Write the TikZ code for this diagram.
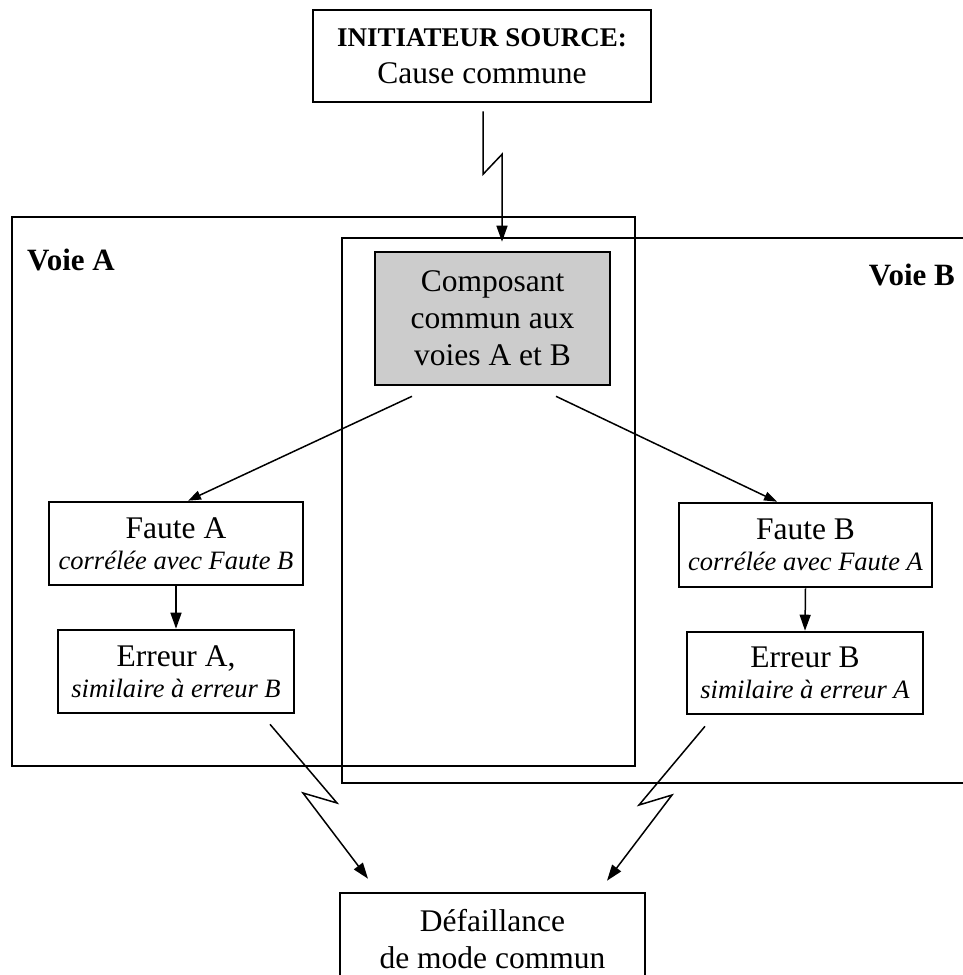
\documentclass[tikz,border=0pt]{standalone}
\usepackage{fontspec}
\setmainfont{Liberation Serif}
\usetikzlibrary{arrows.meta,calc}
\definecolor{compgrey}{gray}{0.8}
\begin{document}
\begin{tikzpicture}[x=1pt,y=-1pt,
  box/.style={draw, line width=2.6pt, inner sep=0pt, align=center, fill=white},
  lane/.style={draw, line width=2.4pt, inner sep=0pt},
  arr/.style={line width=1.5pt, -{Triangle[length=16pt,width=11pt]}},
  small arr/.style={line width=1.5pt, -{Triangle[length=13pt,width=9pt]}},
  big/.style={font=\fontsize{31.5}{37}\selectfont},
  pair/.style={font=\fontsize{31.5}{31}\selectfont},
  lanelabel/.style={font=\bfseries\fontsize{31}{37}\selectfont, inner sep=0pt},
]
\useasboundingbox (0,0) rectangle (963,975);

% the two redundant channels
\node[lane, minimum width=623pt, minimum height=549pt] (voieA) at (323.5,491.5) {};
\node[lane, minimum width=668pt, minimum height=545pt] (voieB) at (676,510.5) {};
\node[lanelabel, anchor=base west] (labA) at (27,270) {Voie A};
\node[lanelabel, anchor=base east] (labB) at (955,285) {Voie B};

% source of the common cause
\node[box, big, minimum width=338pt, minimum height=92pt] (src) at (482,56)
  {{\bfseries\fontsize{27}{37}\selectfont INITIATEUR SOURCE:}\\Cause commune};

% shared component
\node[box, big, fill=compgrey, minimum width=235pt, minimum height=133pt] (comp) at (492.5,318.5)
  {Composant\\commun aux\\voies A et B};

% faults and errors in each channel
\node[box, pair, minimum width=254pt, minimum height=83pt] (fa) at (176,543.5)
  {Faute A\\{\fontsize{26.5}{31}\selectfont\itshape corrélée avec Faute B}};
\node[box, pair, minimum width=253pt, minimum height=84pt] (fb) at (805.5,545)
  {Faute B\\{\fontsize{26.5}{31}\selectfont\itshape corrélée avec Faute A}};
\node[box, pair, minimum width=236pt, minimum height=83pt] (ea) at (176,671.5)
  {Erreur A,\\{\fontsize{26.5}{31}\selectfont\itshape similaire à erreur B}};
\node[box, pair, minimum width=236pt, minimum height=82pt] (eb) at (805,673)
  {Erreur B\\{\fontsize{26.5}{31}\selectfont\itshape similaire à erreur A}};

% resulting failure
\node[box, big, minimum width=305pt, minimum height=93pt] (cmf) at (492.5,939.5)
  {Défaillance\\de mode commun};

% lightning connector from the source
\draw[arr] ($(src.south)+(1,8)$) -- ++(0,63) -- ++(19,-20) -- ($(comp.north)+(9.5,-9)$);

% propagation to both channels
\draw[small arr] ($(comp.south)+(-80.5,10)$) -- ($(fa.north)+(12,0)$);
\draw[small arr] ($(comp.south)+(63.5,10)$) -- ($(fb.north)+(-28.5,0)$);
\draw[arr] (fa.south) -- (ea.north);
\draw[arr] (fb.south) -- (eb.north);

% lightning connectors to the common mode failure
\draw[arr] ($(ea.south)+(94,10)$) -- (337,803) -- (303,793) -- ($(cmf.north)+(-124.5,-13)$);
\draw[arr] ($(eb.south)+(-100,11)$) -- (639,805) -- (672,795) -- ($(cmf.north)+(114.5,-11)$);
\end{tikzpicture}
\end{document}
